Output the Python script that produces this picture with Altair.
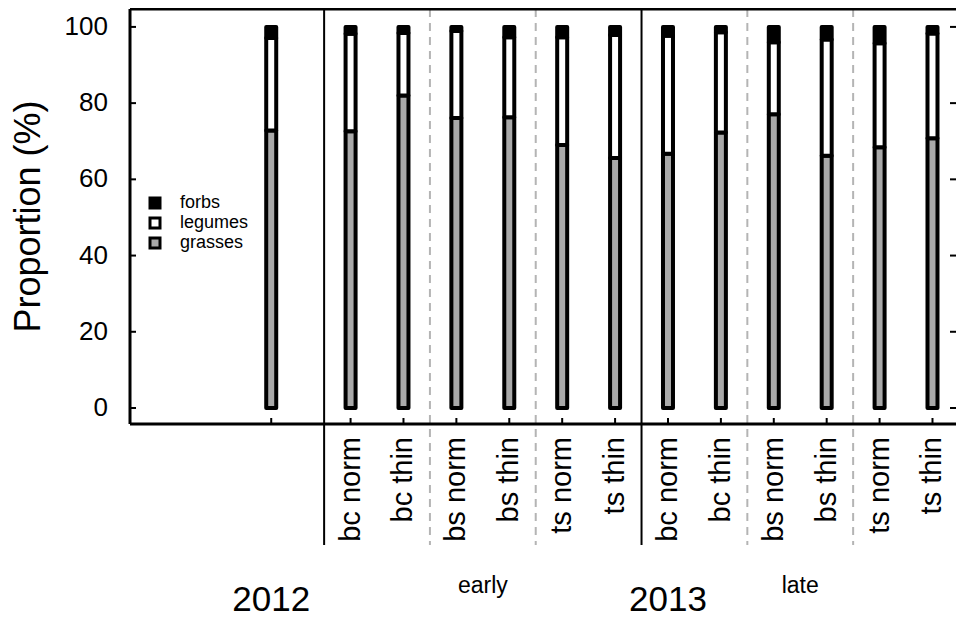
import altair as alt
import pandas as pd

# ---- data ----
positions = [0, 1.5, 2.5, 3.5, 4.5, 5.5, 6.5, 7.5, 8.5, 9.5, 10.5, 11.5, 12.5]
treatments = ["", "bc norm", "bc thin", "bs norm", "bs thin", "ts norm", "ts thin",
              "bc norm", "bc thin", "bs norm", "bs thin", "ts norm", "ts thin"]
grasses = [72.8, 72.6, 82.0, 76.1, 76.3, 69.0, 65.6, 66.7, 72.3, 77.1, 66.2, 68.4, 70.8]
legumes = [24.3, 25.6, 16.4, 22.8, 21.0, 28.3, 32.3, 31.0, 26.3, 18.9, 30.5, 27.3, 27.5]
forbs = [round(100 - g - l, 1) for g, l in zip(grasses, legumes)]

categories = ["forbs", "legumes", "grasses"]
cat_colors = ["#000000", "#ffffff", "#a9a9a9"]

solid_lines = [1.0, 7.0]
dashed_lines = [3.0, 5.0, 9.0, 11.0]
season_labels = ["early", "late"]
season_pos = [4.0, 10.0]
year_labels = ["2012", "2013"]
year_pos = [0.0, 7.5]
y_ticks = [0, 20, 40, 60, 80, 100]

# ---- layout ----
W, H = 826, 415
PX_PER_UNIT = 53.55
X0 = -2.575
FONT = "Liberation Sans"
xs = alt.Scale(domain=[X0, X0 + W / PX_PER_UNIT], nice=False, zero=False)
ys = alt.Scale(domain=[-4.2, 104.7], nice=False, zero=False)

rows = []
for p, g, l, f in zip(positions, grasses, legumes, forbs):
    rows.append({"pos": p, "cat": "grasses", "lo": 0.0, "hi": g})
    rows.append({"pos": p, "cat": "legumes", "lo": g, "hi": g + l})
    rows.append({"pos": p, "cat": "forbs", "lo": g + l, "hi": g + l + f})
bars_df = pd.DataFrame(rows)

bars = alt.Chart(bars_df).mark_bar(size=10, stroke="black", strokeWidth=4,
                                   strokeJoin="round").encode(
    x=alt.X("pos:Q", scale=xs, axis=None),
    y=alt.Y("lo:Q", scale=ys, axis=None),
    y2="hi:Q",
    fill=alt.Fill("cat:N", scale=alt.Scale(domain=categories, range=cat_colors),
                  legend=None),
)

solid = alt.Chart(pd.DataFrame({"pos": solid_lines})).mark_rule(
    color="black", strokeWidth=2).encode(
    x=alt.X("pos:Q", scale=xs, axis=None), y=alt.value(0), y2=alt.value(536))
dashed = alt.Chart(pd.DataFrame({"pos": dashed_lines})).mark_rule(
    color="#b4b4b4", strokeWidth=2, strokeDash=[8, 6]).encode(
    x=alt.X("pos:Q", scale=xs, axis=None), y=alt.value(0), y2=alt.value(536))

one = pd.DataFrame({"a": [0]})
box_top = alt.Chart(one).mark_rule(color="black", strokeWidth=3).encode(
    x=alt.value(0), x2=alt.value(W), y=alt.value(0))
box_left = alt.Chart(one).mark_rule(color="black", strokeWidth=3).encode(
    x=alt.value(0), y=alt.value(0), y2=alt.value(H))
box_bottom = alt.Chart(one).mark_rule(color="black", strokeWidth=3).encode(
    x=alt.value(0), x2=alt.value(W), y=alt.value(H))

pos_df = pd.DataFrame({"pos": positions, "label": treatments})
bottom_ticks = alt.Chart(pos_df).mark_rule(color="black", strokeWidth=2).encode(
    x=alt.X("pos:Q", scale=xs, axis=None), y=alt.value(H - 6), y2=alt.value(H))
yt_df = pd.DataFrame({"v": y_ticks, "lab": [str(v) for v in y_ticks]})
left_ticks = alt.Chart(yt_df).mark_rule(color="black", strokeWidth=2).encode(
    y=alt.Y("v:Q", scale=ys, axis=None), x=alt.value(0), x2=alt.value(6))
right_ticks = alt.Chart(yt_df).mark_rule(color="black", strokeWidth=2).encode(
    y=alt.Y("v:Q", scale=ys, axis=None), x=alt.value(W - 6), x2=alt.value(W))
y_labels = alt.Chart(yt_df).mark_text(
    align="right", baseline="middle", font=FONT, fontSize=26, color="black").encode(
    y=alt.Y("v:Q", scale=ys, axis=None), x=alt.value(-22), text="lab:N")
y_title = alt.Chart(one).mark_text(
    angle=270, align="center", baseline="middle", font=FONT, fontSize=36,
    color="black").encode(x=alt.value(-101), y=alt.value(H / 2),
                          text=alt.value("Proportion (%)"))

# legend (drawn by hand, as in the reference)
legend_layers = []
for i, (cat, col) in enumerate(zip(categories, cat_colors)):
    ly = 194 + 20 * i
    legend_layers.append(alt.Chart(one).mark_square(
        size=100, fill=col, stroke="black", strokeWidth=3, opacity=1).encode(
        x=alt.value(25), y=alt.value(ly)))
    legend_layers.append(alt.Chart(one).mark_text(
        align="left", baseline="middle", font=FONT, fontSize=18, color="black").encode(
        x=alt.value(50), y=alt.value(ly), text=alt.value(cat)))

treat_text = alt.Chart(pos_df).mark_text(
    angle=270, align="right", baseline="middle", font=FONT, fontSize=29,
    color="black").encode(x=alt.X("pos:Q", scale=xs, axis=None), y=alt.value(428),
                          text="label:N")

season_text = alt.Chart(pd.DataFrame({"pos": season_pos, "label": season_labels})).mark_text(
    align="center", baseline="middle", font=FONT, fontSize=23, color="black").encode(
    x=alt.X("pos:Q", scale=xs, axis=None), y=alt.value(577), text="label:N")

year_text = alt.Chart(pd.DataFrame({"pos": year_pos, "label": year_labels})).mark_text(
    align="center", baseline="alphabetic", font=FONT, fontSize=35, color="black").encode(
    x=alt.X("pos:Q", scale=xs, axis=None), y=alt.value(602), text="label:N")

chart = alt.layer(
    solid, dashed, bars, box_top, box_left, box_bottom,
    bottom_ticks, left_ticks, right_ticks, y_labels, y_title,
    *legend_layers, treat_text, season_text, year_text
).properties(
    width=W, height=H,
    autosize=alt.AutoSizeParams(type="none"),
    padding={"left": 122, "top": 1, "right": 0, "bottom": 195},
    background="white",
).configure_view(stroke=None)

chart.save("out.html", embed_options={"renderer": "svg", "actions": False})
